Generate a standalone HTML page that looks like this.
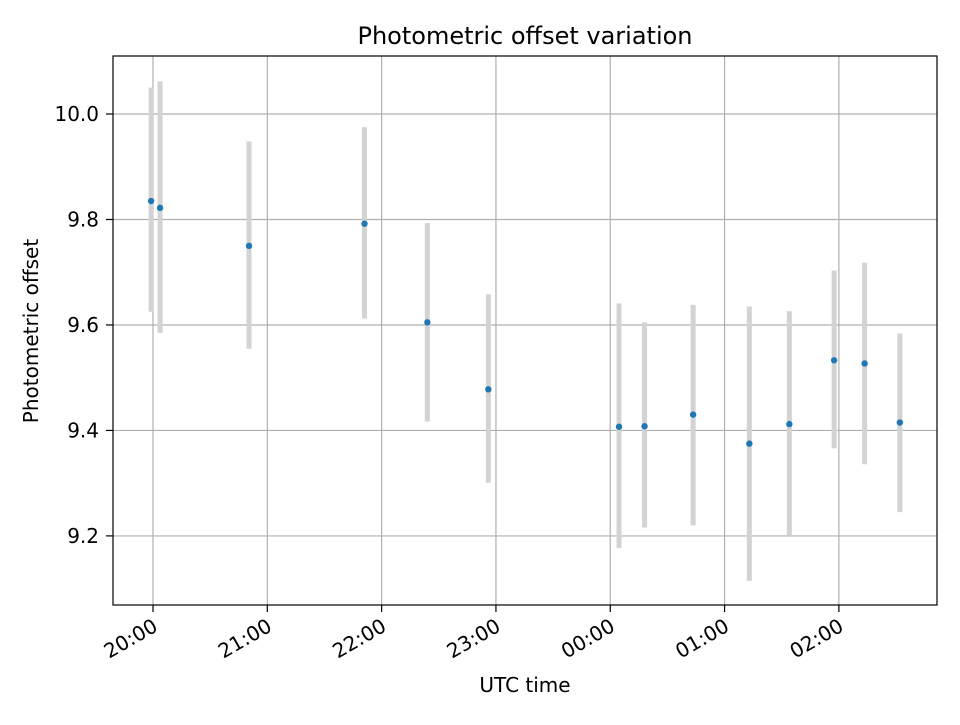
<!DOCTYPE html>
<html><head><meta charset="utf-8"><style>
body{margin:0;background:#fff;}
svg text{font-family:"DejaVu Sans","Liberation Sans",sans-serif;fill:#000;}
</style></head><body>
<svg id="chart" width="960" height="720" xmlns="http://www.w3.org/2000/svg">
<rect width="960" height="720" fill="#fff"/>
<text x="525" y="44" font-size="24" text-anchor="middle">Photometric offset variation</text>
<g id="grid"></g>
<g id="errs"></g>
<g id="pts"></g>
<rect x="113" y="56" width="824" height="549" fill="none" stroke="#000" stroke-width="1.2"/>
<g id="ticks"></g>
<text x="525" y="692" font-size="20" text-anchor="middle">UTC time</text>
<text transform="translate(38,331) rotate(-90)" font-size="20" text-anchor="middle">Photometric offset</text>
</svg>
<script>
// minutes after 20:00 UTC
const times = [-1, 3.7, 50.4, 111, 144, 176, 244.6, 258, 283.5, 313, 334, 357.5, 373.5, 392];
const offsets = [9.835, 9.822, 9.75, 9.792, 9.605, 9.478, 9.407, 9.408, 9.43, 9.375, 9.412, 9.533, 9.527, 9.415];
const upper = [10.05, 10.062, 9.948, 9.975, 9.793, 9.658, 9.641, 9.605, 9.638, 9.635, 9.626, 9.703, 9.718, 9.584];
const lower = [9.625, 9.585, 9.555, 9.612, 9.417, 9.301, 9.177, 9.216, 9.22, 9.115, 9.20, 9.366, 9.336, 9.245];
const xTickMinutes = [0, 60, 120, 180, 240, 300, 360];
const xTickLabels = ["20:00", "21:00", "22:00", "23:00", "00:00", "01:00", "02:00"];
const yTicks = [9.2, 9.4, 9.6, 9.8, 10.0];
const yTickLabels = ["9.2", "9.4", "9.6", "9.8", "10.0"];

const L=113,R=937,T=56,B=605;
const xMin=-21, xMax=411.5, yMin=9.069, yMax=10.11;
const xs=v=>L+(v-xMin)/(xMax-xMin)*(R-L);
const ys=v=>B-(v-yMin)/(yMax-yMin)*(B-T);
const NS="http://www.w3.org/2000/svg";
function mk(tag,attrs,parent){const e=document.createElementNS(NS,tag);for(const k in attrs)e.setAttribute(k,attrs[k]);parent.appendChild(e);return e;}
const grid=document.getElementById('grid'),ticks=document.getElementById('ticks');
xTickMinutes.forEach((m,i)=>{
  const x=xs(m);
  const g=mk('line',{x1:x,x2:x,y1:T,y2:B,stroke:'#b0b0b0','stroke-width':1.2},grid);
  
  
  const t=mk('line',{x1:x,x2:x,y1:B,y2:B+7,stroke:'#000','stroke-width':1.2},ticks);
  
  
  const lb=mk('text',{x:0,y:0,'font-size':20,'text-anchor':'end',transform:`translate(${x+6},${B+25}) rotate(-30)`},ticks);
  lb.textContent=xTickLabels[i];
  
  
});
yTicks.forEach((v,i)=>{
  const y=ys(v);
  const g=mk('line',{x1:L,x2:R,y1:y,y2:y,stroke:'#b0b0b0','stroke-width':1.2},grid);
  
  
  const t=mk('line',{x1:L-7,x2:L,y1:y,y2:y,stroke:'#000','stroke-width':1.2},ticks);
  
  
  const lb=mk('text',{x:L-14,y:y+7,'font-size':20,'text-anchor':'end'},ticks);
  lb.textContent=yTickLabels[i];
  
  
});
const errs=document.getElementById('errs'),pts=document.getElementById('pts');
times.forEach((m,i)=>{
  const x=xs(m);
  const e=mk('line',{x1:x,x2:x,y1:ys(upper[i]),y2:ys(lower[i]),stroke:'#d3d3d3','stroke-width':5},errs);
  
  
  const c=mk('circle',{cx:x,cy:ys(offsets[i]),r:3.2,fill:'#1f77b4'},pts);
  
  
});
</script>
</body></html>
